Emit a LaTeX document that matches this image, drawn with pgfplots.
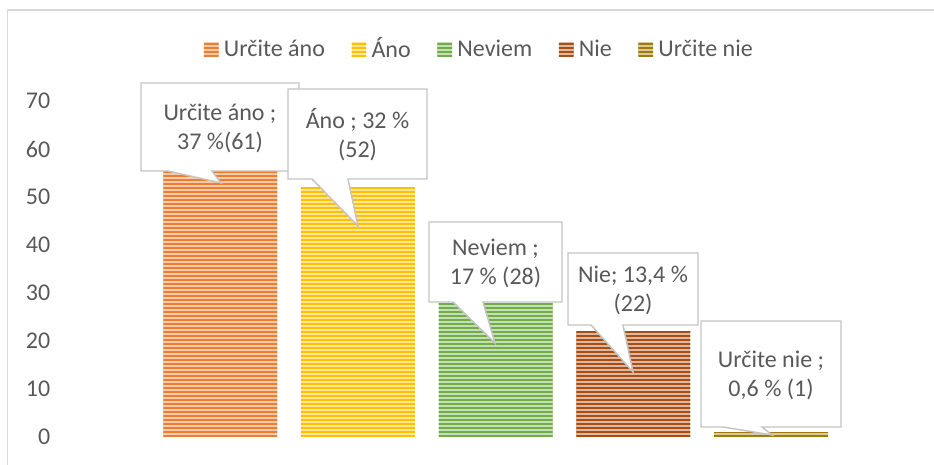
\documentclass[border=0pt]{standalone}
\usepackage{pgfplots}
\pgfplotsset{compat=1.18}
\usepackage{fontspec}
\setmainfont{Carlito}
\usetikzlibrary{patterns.meta}
\definecolor{cA}{HTML}{ED7D31}
\definecolor{cB}{HTML}{FFC000}
\definecolor{cC}{HTML}{70AD47}
\definecolor{cD}{HTML}{A84E14}
\definecolor{cE}{HTML}{A07A0A}
\definecolor{txt}{HTML}{595959}
\definecolor{brd}{HTML}{C4C4C4}
\definecolor{frame}{HTML}{D9D9D9}
\newcommand{\lblfont}{\fontsize{18}{21.75}\selectfont}
\newcommand{\callout}[9]{%
  \draw[brd, line width=1.1pt, fill=white, line join=miter] (#1,#2) -- (#3,#2) -- (#3,#4) -- (#6,#4) -- (#7,#8) -- (#5,#4) -- (#1,#4) -- cycle;
  \node[txt, align=center, font=\lblfont, inner sep=0pt] at ({(#1+#3)/2},{(#2+#4)/2+1}) {#9};
}
\pgfplotsset{
  barstyle/.style={fill=#1!40!white, draw=none, bar shift=0pt,
    postaction={pattern={Lines[angle=0,distance=3pt,line width=1.2pt]}, pattern color=#1}},
}
\begin{document}
\begin{tikzpicture}
\begin{scope}[shift={(-41.25pt,327.75pt)}, x=0.75pt, y=-0.75pt]
  \path[use as bounding box] (0,0) rectangle (934,464);
  \draw[frame, line width=0.9pt] (7.5,470) -- (7.5,10) -- (940,10);
\end{scope}
\begin{axis}[
  scale only axis,
  width=588.75pt, height=252pt,
  xmin=-1.2, xmax=4.5, ymin=0, ymax=70,
  ybar, bar width=85.5pt,
  axis y line=left, axis x line=bottom,
  axis line style={draw=none},
  major tick length=0pt,
  xtick=\empty,
  ytick={0,10,...,70},
  /pgf/number format/assume math mode=true,
  yticklabel style={font=\fontsize{18}{21}\selectfont, text=txt},
  clip=false,
  legend columns=-1,
  legend style={draw=none, fill=none, font=\fontsize{18}{21}\selectfont, text=txt,
    at={(axis description cs:0.541,1.155)}, anchor=center,
    /tikz/every even column/.append style={column sep=18pt}},
  legend image code/.code={\fill[#1] (0pt,-5.5pt) rectangle (11pt,5.5pt); \path (13pt,0pt);},
]
\addplot[barstyle=cA] coordinates {(0,61)};
\addplot[barstyle=cB] coordinates {(1,52)};
\addplot[barstyle=cC] coordinates {(2,28)};
\addplot[barstyle=cD] coordinates {(3,22)};
\addplot[barstyle=cE] coordinates {(4,1)};
\legend{Určite áno, Áno, Neviem, Nie, Určite nie}
\end{axis}
\begin{scope}[shift={(-41.25pt,327.75pt)}, x=0.75pt, y=-0.75pt]
  \callout{141}{83}{299}{171}{168}{212}{221}{183}{Určite áno ;\\37 \%(61)}
  \callout{288}{89}{427}{179}{312}{348}{358}{226}{Áno ; 32 \%\\(52)}
  \callout{429}{222}{562}{302}{453}{483}{495}{343}{Neviem ;\\17 \% (28)}
  \callout{568}{253}{698}{325}{591}{623}{633}{372}{Nie; 13,4 \%\\(22)}
  \callout{701}{321}{841}{427}{723}{762}{772}{435}{Určite nie ;\\0,6 \% (1)}
\end{scope}
\end{tikzpicture}
\end{document}
